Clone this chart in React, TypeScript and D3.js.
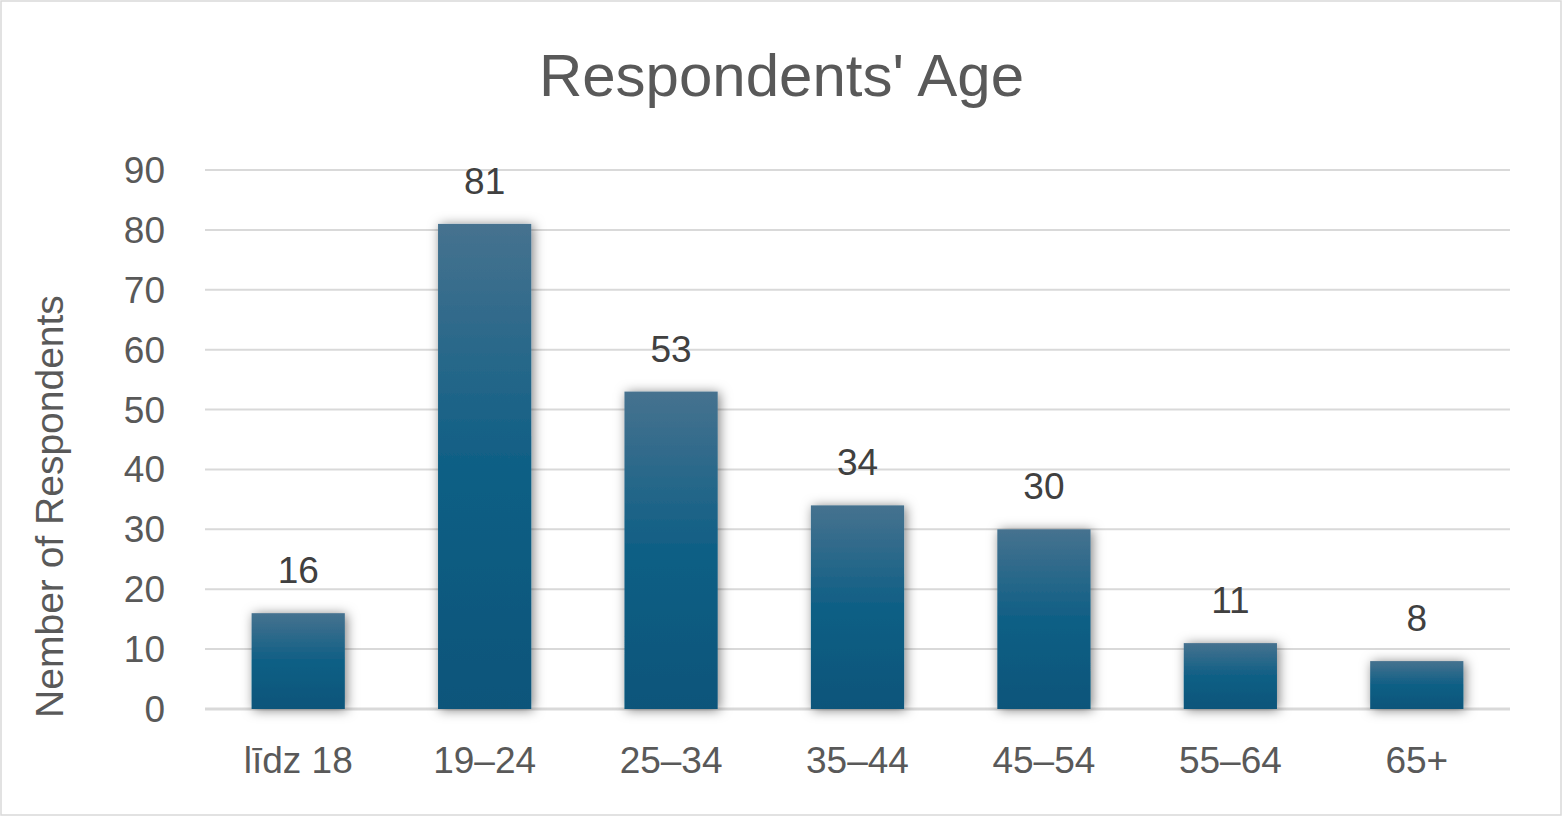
import React, { useEffect, useRef } from 'react';
import * as d3 from 'd3';

const categories = ['līdz 18', '19–24', '25–34', '35–44', '45–54', '55–64', '65+'];
const respondents = [16, 81, 53, 34, 30, 11, 8];
const yTicks = [0, 10, 20, 30, 40, 50, 60, 70, 80, 90];

const WIDTH = 1563;
const HEIGHT = 817;
const FONT = '"Liberation Sans", Arial, sans-serif';

const App: React.FC = () => {
    const svgRef = useRef<SVGSVGElement>(null);

    useEffect(() => {
        if (!svgRef.current) return;
        const svg = d3.select(svgRef.current);
        svg.selectAll('*').remove();

        const margin = { top: 170, right: 53, bottom: 108, left: 205 };
        const innerWidth = WIDTH - margin.left - margin.right;
        const innerHeight = HEIGHT - margin.top - margin.bottom;

        const defs = svg.append('defs');
        const grad = defs.append('linearGradient')
            .attr('id', 'barGrad')
            .attr('x1', 0).attr('y1', 0).attr('x2', 0).attr('y2', 1);
        grad.append('stop').attr('offset', '0%').attr('stop-color', '#46728f');
        grad.append('stop').attr('offset', '50%').attr('stop-color', '#0f5f85');
        grad.append('stop').attr('offset', '100%').attr('stop-color', '#0a557a');

        const shadow = defs.append('filter')
            .attr('id', 'barShadow')
            .attr('x', '-30%').attr('y', '-30%')
            .attr('width', '160%').attr('height', '160%');
        shadow.append('feDropShadow')
            .attr('dx', 2).attr('dy', 1)
            .attr('stdDeviation', 6)
            .attr('flood-color', '#000')
            .attr('flood-opacity', 0.5);

        // background + border
        svg.append('rect')
            .attr('x', 1).attr('y', 1)
            .attr('width', WIDTH - 3).attr('height', HEIGHT - 3)
            .attr('fill', '#ffffff')
            .attr('stroke', '#d9d9d9')
            .attr('stroke-width', 1.5);

        // title
        svg.append('text')
            .attr('x', WIDTH / 2)
            .attr('y', 96)
            .attr('text-anchor', 'middle')
            .style('font-family', FONT)
            .style('font-size', '60px')
            .style('fill', '#595959')
            .text("Respondents' Age");

        const g = svg.append('g')
            .attr('transform', `translate(${margin.left},${margin.top})`);

        const x = d3.scaleBand()
            .domain(categories)
            .range([0, innerWidth])
            .paddingInner(0.5)
            .paddingOuter(0.25);

        const y = d3.scaleLinear()
            .domain([0, 90])
            .range([innerHeight, 0]);

        // gridlines
        g.selectAll('.grid')
            .data(yTicks)
            .join('line')
            .attr('x1', 0)
            .attr('x2', innerWidth)
            .attr('y1', d => y(d))
            .attr('y2', d => y(d))
            .attr('stroke', '#d9d9d9')
            .attr('stroke-width', d => (d === 0 ? 3 : 2));

        // y tick labels
        g.selectAll('.ytick')
            .data(yTicks)
            .join('text')
            .attr('x', -40)
            .attr('y', d => y(d))
            .attr('dy', '0.35em')
            .attr('text-anchor', 'end')
            .style('font-family', FONT)
            .style('font-size', '37px')
            .style('fill', '#595959')
            .text(d => d);

        // bars
        g.selectAll('.bar')
            .data(respondents)
            .join('rect')
            .attr('x', (_, i) => x(categories[i]) ?? 0)
            .attr('y', d => y(d))
            .attr('width', x.bandwidth())
            .attr('height', d => innerHeight - y(d))
            .attr('fill', 'url(#barGrad)')
            .attr('filter', 'url(#barShadow)');

        // data labels
        g.selectAll('.label')
            .data(respondents)
            .join('text')
            .attr('x', (_, i) => (x(categories[i]) ?? 0) + x.bandwidth() / 2)
            .attr('y', d => y(d) - 30)
            .attr('text-anchor', 'middle')
            .style('font-family', FONT)
            .style('font-size', '37px')
            .style('fill', '#404040')
            .text(d => d);

        // category labels
        g.selectAll('.cat')
            .data(categories)
            .join('text')
            .attr('x', d => (x(d) ?? 0) + x.bandwidth() / 2)
            .attr('y', innerHeight + 64)
            .attr('text-anchor', 'middle')
            .style('font-family', FONT)
            .style('font-size', '37px')
            .style('fill', '#595959')
            .text(d => d);

        // y axis title
        svg.append('text')
            .attr('transform', `translate(63,${margin.top + innerHeight / 2 + 67}) rotate(-90)`)
            .attr('text-anchor', 'middle')
            .style('font-family', FONT)
            .style('font-size', '39px')
            .style('fill', '#595959')
            .text('Nember of Respondents');
    }, []);

    return (
        <svg
            ref={svgRef}
            width={WIDTH}
            height={HEIGHT}
            style={{ position: 'absolute', top: 0, left: 0, display: 'block' }}
        />
    );
};

export default App;
